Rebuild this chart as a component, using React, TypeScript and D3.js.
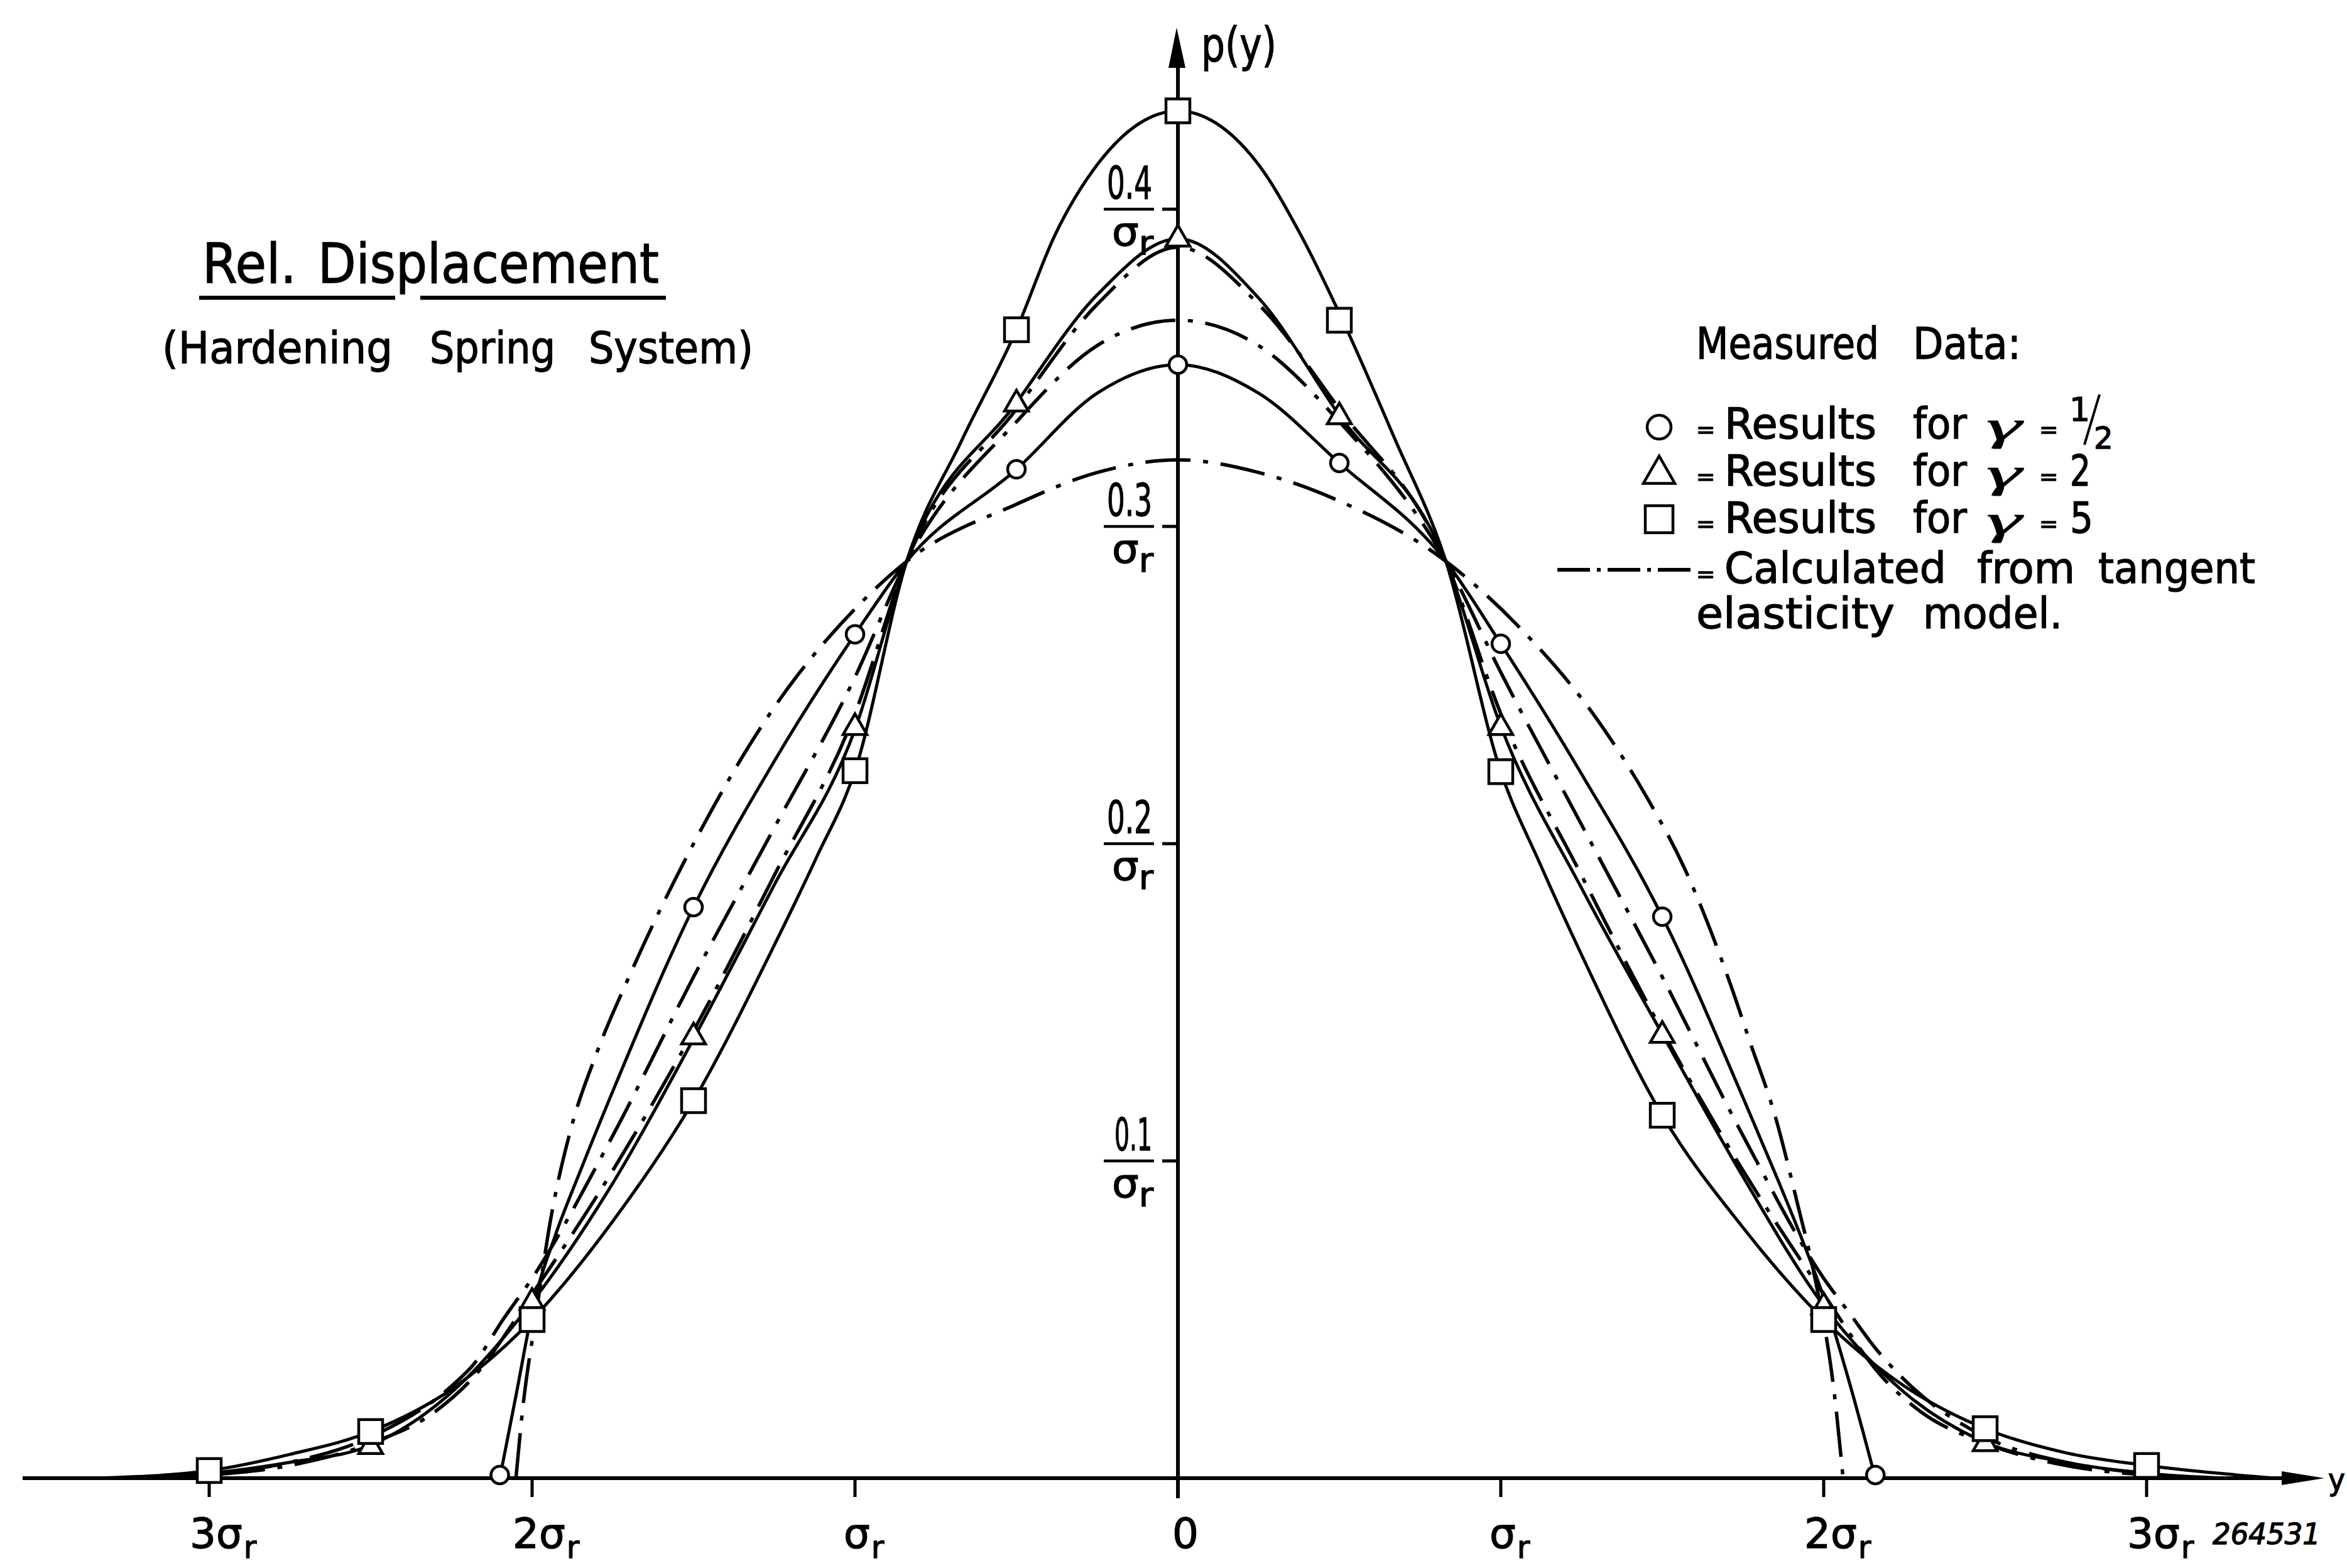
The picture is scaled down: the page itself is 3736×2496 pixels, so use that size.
import React from "react";
import * as d3 from "d3";

const W = 3736;
const H = 2496;
const FONT = "'DejaVu Sans', 'Liberation Sans', sans-serif";

// ---- axis ticks (x in units of σr, y in units of 1/σr) ----
const xTickValues = [-3, -2, -1, 0, 1, 2, 3];
const xTickMain = ["3σ", "2σ", "σ", "0", "σ", "2σ", "3σ"];
const yTickValues = [0.1, 0.2, 0.3, 0.4];
const yTickLabels = ["0.1", "0.2", "0.3", "0.4"];

// ---- measured curves (solid) ----
// γ = 5 (squares)
const s5X = [-3.35, -3.0, -2.75, -2.5, -2.25, -2.0, -1.75, -1.5, -1.25, -1.12, -1.0, -0.84, -0.67, -0.5, -0.38, -0.25, -0.12, 0, 0.12, 0.25, 0.38, 0.51, 0.67, 0.83, 1.0, 1.12, 1.25, 1.5, 1.75, 2.0, 2.25, 2.5, 2.75, 3.0, 3.4];
const s5Y = [0, 0.0024, 0.0075, 0.0147, 0.028, 0.05, 0.081, 0.119, 0.168, 0.1955, 0.223, 0.289, 0.327, 0.362, 0.392, 0.414, 0.427, 0.431, 0.427, 0.414, 0.392, 0.365, 0.328, 0.289, 0.2227, 0.194, 0.165, 0.1144, 0.079, 0.05, 0.029, 0.0156, 0.008, 0.004, 0];
// γ = 2 (triangles)
const s2X = [-3.2, -3.0, -2.75, -2.5, -2.25, -2.0, -1.75, -1.5, -1.25, -1.0, -0.84, -0.5, -0.25, 0, 0.25, 0.5, 0.83, 1.0, 1.25, 1.5, 1.75, 2.0, 2.25, 2.5, 2.75, 3.0, 3.25];
const s2Y = [0, 0.0015, 0.005, 0.0104, 0.027, 0.0555, 0.093, 0.1385, 0.187, 0.236, 0.289, 0.339, 0.373, 0.3907, 0.372, 0.335, 0.289, 0.237, 0.186, 0.14, 0.095, 0.0544, 0.027, 0.0113, 0.005, 0.0015, 0];
// γ = 1/2 (circles)
const sHX = [-2.1, -2.05, -1.99, -1.93, -1.85, -1.75, -1.5, -1.25, -1.0, -0.84, -0.5, -0.25, 0, 0.25, 0.5, 0.83, 1.0, 1.25, 1.5, 1.75, 1.85, 1.93, 2.0, 2.08, 2.16];
const sHY = [0, 0.026, 0.057, 0.076, 0.097, 0.122, 0.18, 0.226, 0.266, 0.289, 0.318, 0.342, 0.351, 0.342, 0.32, 0.289, 0.263, 0.222, 0.177, 0.12, 0.096, 0.076, 0.057, 0.03, 0];

// ---- calculated curves (dash-dot, tangent elasticity model) ----
const cLowX = [-2.05, -2.03, -1.99, -1.94, -1.88, -1.8, -1.7, -1.5, -1.25, -1.0, -0.84, -0.5, -0.25, 0, 0.25, 0.5, 0.83, 1.05, 1.32, 1.45, 1.57, 1.71, 1.77, 1.85, 1.92, 1.97, 2.036, 2.06];
const cLowY = [0, 0.021, 0.05, 0.083, 0.11, 0.134, 0.158, 0.2, 0.243, 0.274, 0.289, 0.307, 0.317, 0.321, 0.317, 0.308, 0.289, 0.269, 0.236, 0.215, 0.192, 0.156, 0.138, 0.114, 0.086, 0.0645, 0.024, 0];
const cMidX = [-3.15, -3.0, -2.75, -2.5, -2.25, -2.18, -2.09, -2.0, -1.75, -1.5, -1.25, -1.0, -0.84, -0.5, -0.25, 0, 0.25, 0.5, 0.83, 1.0, 1.25, 1.5, 1.75, 2.0, 2.08, 2.16, 2.25, 2.5, 2.75, 3.0, 3.15];
const cMidY = [0, 0.0012, 0.005, 0.013, 0.029, 0.036, 0.05, 0.063, 0.108, 0.158, 0.205, 0.2525, 0.289, 0.333, 0.357, 0.365, 0.357, 0.333, 0.289, 0.254, 0.206, 0.158, 0.108, 0.063, 0.052, 0.041, 0.031, 0.013, 0.005, 0.0015, 0];
const cHighX = [-3.2, -3.0, -2.75, -2.5, -2.3, -2.18, -2.0, -1.75, -1.5, -1.25, -1.0, -0.84, -0.5, -0.25, 0, 0.25, 0.5, 0.83, 1.0, 1.25, 1.5, 1.75, 2.0, 2.18, 2.3, 2.5, 2.75, 3.0, 3.2];
const cHighY = [0, 0.001, 0.004, 0.011, 0.021, 0.032, 0.058, 0.097, 0.141, 0.19, 0.241, 0.289, 0.337, 0.37, 0.388, 0.37, 0.337, 0.289, 0.241, 0.19, 0.141, 0.097, 0.058, 0.032, 0.021, 0.011, 0.004, 0.001, 0];

// ---- measured data points ----
const circleX = [-2.1, -1.5, -1.0, -0.5, 0, 0.5, 1.0, 1.5, 2.16];
const circleY = [0.001, 0.18, 0.266, 0.318, 0.351, 0.32, 0.263, 0.177, 0.001];
const triangleX = [-2.5, -2.0, -1.5, -1.0, -0.5, 0, 0.5, 1.0, 1.5, 2.0, 2.5];
const triangleY = [0.0104, 0.0558, 0.1395, 0.237, 0.339, 0.391, 0.335, 0.237, 0.14, 0.0544, 0.0113];
const squareX = [-3, -2.5, -2, -1.5, -1, -0.5, 0, 0.5, 1, 1.5, 2, 2.5, 3];
const squareY = [0.0024, 0.0147, 0.05, 0.119, 0.223, 0.362, 0.431, 0.365, 0.2227, 0.1144, 0.05, 0.0156, 0.004];

const xScale = d3.scaleLinear().domain([-3, 3]).range([333, 3417]);
const yScale = d3.scaleLinear().domain([0, 0.4]).range([2353, 333]);

const zip = (xs: number[], ys: number[]) => xs.map((v, i) => [v, ys[i]] as [number, number]);
const lineGen = d3
  .line<[number, number]>()
  .x((d) => xScale(d[0]))
  .y((d) => yScale(d[1]))
  .curve(d3.curveMonotoneX);

const DASHDOT = "72 20 8 20";
const TXT_STROKE = 1.3;

function T(props: any) {
  const { x, y, w, size, children, anchor = "start", italic = false, family = FONT, sw = TXT_STROKE } = props;
  return (
    <text
      x={x}
      y={y}
      fontSize={size}
      fontFamily={family}
      textAnchor={anchor}
      fontStyle={italic ? "italic" : "normal"}
      textLength={w}
      lengthAdjust={w ? "spacingAndGlyphs" : undefined}
      fill="#000"
      stroke="#000"
      strokeWidth={sw}
    >
      {children}
    </text>
  );
}

const triPath = (cx: number, cy: number, s: number) => {
  const h = s * 0.87;
  return `M${cx},${cy - h * 0.6} L${cx + s / 2},${cy + h * 0.4} L${cx - s / 2},${cy + h * 0.4} Z`;
};

export default function App() {
  const x0 = xScale(0);
  const yBase = yScale(0);
  const solid = [zip(s5X, s5Y), zip(s2X, s2Y), zip(sHX, sHY)];
  const dashed = [zip(cLowX, cLowY), zip(cMidX, cMidY), zip(cHighX, cHighY)];
  const mk = { fill: "#fff", stroke: "#000", strokeWidth: 4.5 };

  return (
    <svg
      width={W}
      height={H}
      viewBox={`0 0 ${W} ${H}`}
      style={{ position: "absolute", left: 0, top: 0, display: "block", background: "#fff" }}
    >
      <rect x={0} y={0} width={W} height={H} fill="#fff" />

      {/* x axis */}
      <line x1={36} y1={yBase} x2={3640} y2={yBase} stroke="#000" strokeWidth={6} />
      <path d={`M3700,${yBase} L3632,${yBase - 11} L3632,${yBase + 11} Z`} fill="#000" />
      {xTickValues.map((v, i) =>
        v === 0 ? null : (
          <line key={"xt" + i} x1={xScale(v)} y1={yBase} x2={xScale(v)} y2={yBase + 30} stroke="#000" strokeWidth={5} />
        )
      )}
      {/* y axis */}
      <line x1={x0} y1={yBase + 32} x2={x0} y2={100} stroke="#000" strokeWidth={6} />
      <path d={`M${x0 - 2},44 L${x0 + 12},108 L${x0 - 15},108 Z`} fill="#000" />
      {yTickValues.map((v, i) => (
        <line key={"yt" + i} x1={x0 - 25} y1={yScale(v)} x2={x0} y2={yScale(v)} stroke="#000" strokeWidth={5} />
      ))}

      {/* x tick labels: main symbol with subscript r */}
      {xTickValues.map((v, i) => {
        const main = xTickMain[i];
        const isZero = main === "0";
        const left = xScale(v) - (isZero ? 9 : main.length === 1 ? 18 : 31);
        return (
          <text
            key={"xl" + i}
            x={left}
            y={2464}
            fontSize={66}
            fontFamily={FONT}
            fill="#000"
            stroke="#000"
            strokeWidth={TXT_STROKE}
          >
            {main}
            {!isZero && (
              <tspan fontSize={50} dx={2} dy={16}>
                r
              </tspan>
            )}
          </text>
        );
      })}

      {/* y tick labels as fractions */}
      {yTickValues.map((v, i) => {
        const ty = yScale(v);
        const lbl = yTickLabels[i];
        return (
          <g key={"yl" + i}>
            <T x={1834} y={ty - 17} w={lbl === "0.1" ? 60 : 72} size={72} anchor="end">{lbl}</T>
            <line x1={1757} y1={ty} x2={1837} y2={ty} stroke="#000" strokeWidth={4.5} />
            <text
              x={1770}
              y={ty + 58}
              fontSize={64}
              fontFamily={FONT}
              textLength={66}
              lengthAdjust="spacingAndGlyphs"
              fill="#000"
              stroke="#000"
              strokeWidth={TXT_STROKE}
            >
              σ<tspan fontSize={54} dy={14}>r</tspan>
            </text>
          </g>
        );
      })}

      {/* axis names */}
      <T x={1912} y={97} w={120} size={74}>p(y)</T>
      <T x={3706} y={2372} w={27} size={48}>y</T>
      <T x={3522} y={2458} w={172} size={46} italic>264531</T>

      {/* curves */}
      {solid.map((d, i) => (
        <path key={"s" + i} d={lineGen(d) || ""} fill="none" stroke="#000" strokeWidth={5} strokeLinejoin="round" />
      ))}
      {dashed.map((d, i) => (
        <path key={"c" + i} d={lineGen(d) || ""} fill="none" stroke="#000" strokeWidth={5.5} strokeDasharray={DASHDOT} />
      ))}

      {/* markers */}
      {circleX.map((v, i) => (
        <circle key={"ci" + i} cx={xScale(v)} cy={yScale(circleY[i])} r={14} {...mk} />
      ))}
      {triangleX.map((v, i) => (
        <path key={"tr" + i} d={triPath(xScale(v), yScale(triangleY[i]), 38)} {...mk} />
      ))}
      {squareX.map((v, i) => (
        <rect key={"sq" + i} x={xScale(v) - 19} y={yScale(squareY[i]) - 19} width={38} height={38} {...mk} />
      ))}

      {/* title */}
      <T x={322} y={450} w={150} size={88}>Rel.</T>
      <T x={506} y={450} w={543} size={88}>Displacement</T>
      <line x1={317} y1={474} x2={629} y2={474} stroke="#000" strokeWidth={6.5} />
      <line x1={669} y1={474} x2={1060} y2={474} stroke="#000" strokeWidth={6.5} />
      <T x={258} y={578} w={367} size={70}>(Hardening</T>
      <T x={684} y={578} w={200} size={70}>Spring</T>
      <T x={937} y={578} w={262} size={70}>System)</T>

      {/* legend */}
      <T x={2700} y={571} w={291} size={70}>Measured</T>
      <T x={3045} y={571} w={172} size={70}>Data:</T>

      <circle cx={2641} cy={680} r={19} {...mk} />
      <path d={triPath(2641, 752, 50)} {...mk} />
      <rect x={2619} y={805} width={44} height={43} {...mk} />
      <line x1={2479} y1={907} x2={2696} y2={907} stroke="#000" strokeWidth={6} strokeDasharray="52 11 6 11" />

      {[698, 773, 848].map((by, i) => (
        <g key={"lr" + i}>
          <T x={2700} y={by - 2} size={36}>=</T>
          <T x={2745} y={by} w={242} size={68}>Results</T>
          <T x={3045} y={by} w={86} size={68}>for</T>
          <T x={3162} y={by + 2} w={56} size={66} italic sw={0.8} family="'Liberation Serif', 'DejaVu Serif', serif">γ</T>
          <T x={3246} y={by - 2} size={36}>=</T>
        </g>
      ))}
      {/* one half written as 1 / 2 */}
      <T x={3294} y={670} size={52}>1</T>
      <line x1={3342} y1={628} x2={3318} y2={708} stroke="#000" strokeWidth={4} />
      <T x={3333} y={714} size={48}>2</T>
      <T x={3295} y={773} w={33} size={68}>2</T>
      <T x={3295} y={848} w={37} size={68}>5</T>

      <T x={2700} y={926} size={36}>=</T>
      <T x={2745} y={928} w={353} size={68}>Calculated</T>
      <T x={3147} y={928} w={156} size={68}>from</T>
      <T x={3340} y={928} w={250} size={68}>tangent</T>
      <T x={2700} y={1000} w={316} size={68}>elasticity</T>
      <T x={3061} y={1000} w={222} size={68}>model.</T>
    </svg>
  );
}
